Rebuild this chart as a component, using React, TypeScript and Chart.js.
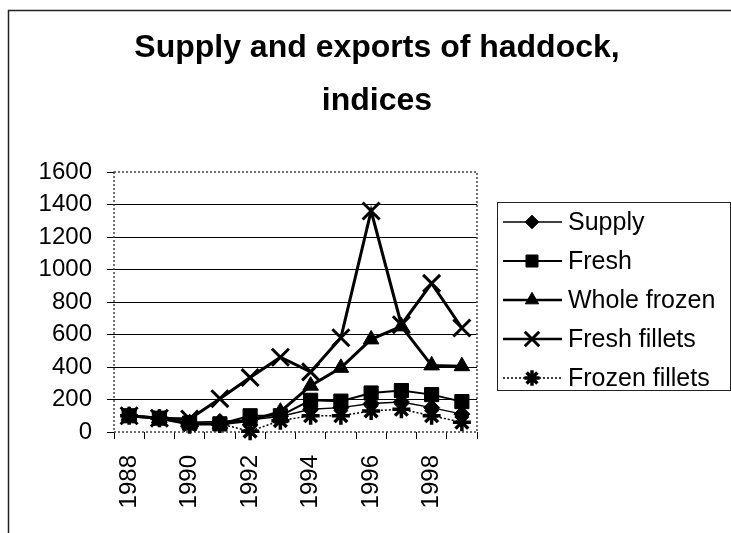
import React, { useEffect, useRef } from 'react';
import { Chart, registerables } from 'chart.js';

Chart.register(...registerables);

const years = ['1988', '1989', '1990', '1991', '1992', '1993', '1994', '1995', '1996', '1997', '1998', '1999'];
const supply = [100, 85, 60, 65, 75, 95, 140, 150, 175, 185, 150, 110];
const fresh = [100, 85, 55, 50, 100, 100, 195, 190, 240, 255, 230, 187];
const wholeFrozen = [100, 85, 50, 50, 70, 125, 285, 395, 570, 650, 410, 405];
const freshFillets = [100, 85, 80, 205, 335, 460, 370, 580, 1360, 660, 915, 640];
const frozenFillets = [100, 85, 45, 50, 5, 70, 100, 100, 130, 140, 100, 60];
const seriesNames = ['Supply', 'Fresh', 'Whole frozen', 'Fresh fillets', 'Frozen fillets'];
const titleLines = ['Supply and exports of haddock,', 'indices'];
const yMin = 0;
const yMax = 1600;
const yStep = 200;

const FONT = '"Liberation Sans", Arial, Helvetica, sans-serif';

function drawMarker(ctx: CanvasRenderingContext2D, style: string, x: number, y: number, r: number, bw: number) {
  ctx.save();
  ctx.fillStyle = '#000';
  ctx.strokeStyle = '#000';
  ctx.lineWidth = bw;
  ctx.setLineDash([]);
  ctx.beginPath();
  const d = Math.SQRT1_2 * r;
  if (style === 'rectRot') {
    ctx.moveTo(x, y - r);
    ctx.lineTo(x + r, y);
    ctx.lineTo(x, y + r);
    ctx.lineTo(x - r, y);
    ctx.closePath();
    ctx.fill();
    ctx.stroke();
  } else if (style === 'rect') {
    ctx.rect(x - d, y - d, 2 * d, 2 * d);
    ctx.fill();
    ctx.stroke();
  } else if (style === 'triangle') {
    for (let i = 0; i < 3; i++) {
      const a = (i * 2 * Math.PI) / 3;
      const px = x + Math.sin(a) * r;
      const py = y - Math.cos(a) * r;
      if (i === 0) ctx.moveTo(px, py);
      else ctx.lineTo(px, py);
    }
    ctx.closePath();
    ctx.fill();
    ctx.stroke();
  } else if (style === 'crossRot') {
    ctx.moveTo(x - d, y - d);
    ctx.lineTo(x + d, y + d);
    ctx.moveTo(x - d, y + d);
    ctx.lineTo(x + d, y - d);
    ctx.stroke();
  } else if (style === 'star') {
    ctx.moveTo(x - r, y);
    ctx.lineTo(x + r, y);
    ctx.moveTo(x, y - r);
    ctx.lineTo(x, y + r);
    ctx.moveTo(x - d, y - d);
    ctx.lineTo(x + d, y + d);
    ctx.moveTo(x - d, y + d);
    ctx.lineTo(x + d, y - d);
    ctx.stroke();
  }
  ctx.restore();
}

const decorPlugin = {
  id: 'decor',
  beforeDraw(chart: any) {
    const ctx = chart.ctx as CanvasRenderingContext2D;
    ctx.save();
    ctx.fillStyle = '#fff';
    ctx.fillRect(0, 0, chart.width, chart.height);
    ctx.strokeStyle = '#222';
    ctx.lineWidth = 1.5;
    ctx.beginPath();
    ctx.moveTo(8.5, chart.height);
    ctx.lineTo(8.5, 10.5);
    ctx.lineTo(chart.width, 10.5);
    ctx.stroke();
    ctx.fillStyle = '#000';
    ctx.font = 'bold 32px ' + FONT;
    ctx.textAlign = 'center';
    ctx.textBaseline = 'alphabetic';
    titleLines.forEach((t, i) => ctx.fillText(t, 377, 57 + i * 53));
    ctx.restore();
  },
  beforeDatasetsDraw(chart: any) {
    const ctx = chart.ctx as CanvasRenderingContext2D;
    const { left, right, top, bottom } = chart.chartArea;
    ctx.save();
    ctx.strokeStyle = '#444';
    ctx.lineWidth = 1.5;
    ctx.setLineDash([2, 2]);
    ctx.strokeRect(left, top, right - left, bottom - top);
    ctx.restore();
  },
  afterDraw(chart: any) {
    const ctx = chart.ctx as CanvasRenderingContext2D;
    ctx.save();
    ctx.strokeStyle = '#222';
    ctx.lineWidth = 1;
    ctx.strokeRect(497.5, 202.5, 233, 188);
    chart.data.datasets.forEach((ds: any, i: number) => {
      const cy = 222 + i * 39;
      ctx.save();
      ctx.strokeStyle = '#000';
      ctx.lineWidth = Math.min(ds.borderWidth, 2.5);
      ctx.setLineDash(ds.borderDash || []);
      ctx.beginPath();
      ctx.moveTo(503, cy);
      ctx.lineTo(562, cy);
      ctx.stroke();
      ctx.restore();
      drawMarker(ctx, ds.pointStyle, 532, cy, ds.pointRadius * 0.85, ds.pointBorderWidth);
      ctx.fillStyle = '#000';
      ctx.font = '25px ' + FONT;
      ctx.textAlign = 'left';
      ctx.textBaseline = 'middle';
      ctx.fillText(ds.label, 568, cy + 1);
    });
    ctx.restore();
  },
};

export default function App() {
  const ref = useRef<HTMLCanvasElement | null>(null);
  useEffect(() => {
    if (!ref.current) return;
    const common = {
      borderColor: '#000',
      pointBackgroundColor: '#000',
      pointBorderColor: '#000',
      fill: false,
      tension: 0,
      clip: false as const,
    };
    const chart = new Chart(ref.current, {
      type: 'line',
      data: {
        labels: years,
        datasets: [
          { ...common, label: seriesNames[0], data: supply, borderWidth: 1.5, pointStyle: 'rectRot', pointRadius: 8, pointBorderWidth: 1 },
          { ...common, label: seriesNames[1], data: fresh, borderWidth: 2, pointStyle: 'rect', pointRadius: 10, pointBorderWidth: 1 },
          { ...common, label: seriesNames[2], data: wholeFrozen, borderWidth: 3, pointStyle: 'triangle', pointRadius: 9, pointBorderWidth: 1 },
          { ...common, label: seriesNames[3], data: freshFillets, borderWidth: 3, pointStyle: 'crossRot', pointRadius: 12, pointBorderWidth: 3 },
          { ...common, label: seriesNames[4], data: frozenFillets, borderWidth: 1.5, borderDash: [2, 2], pointStyle: 'star', pointRadius: 9, pointBorderWidth: 3.5 },
        ],
      },
      options: {
        animation: false,
        responsive: false,
        devicePixelRatio: 1,
        layout: { padding: { left: 0, right: 254, top: 172, bottom: 0 } },
        plugins: {
          legend: { display: false },
          title: { display: false },
          tooltip: { enabled: false },
        },
        scales: {
          x: {
            type: 'category',
            offset: true,
            grid: { display: true, offset: true, drawOnChartArea: false, drawTicks: true, tickLength: 7, tickColor: '#000', tickWidth: 1 },
            border: { display: false },
            ticks: {
              autoSkip: false,
              minRotation: 90,
              maxRotation: 90,
              padding: 16,
              color: '#000',
              font: { family: FONT, size: 24 },
              callback: function (this: any, value: any, index: number) {
                return index % 2 === 0 ? this.getLabelForValue(value) : '';
              },
            },
            afterFit: (scale: any) => {
              scale.height = 101;
            },
          },
          y: {
            min: yMin,
            max: yMax,
            ticks: {
              stepSize: yStep,
              padding: 15,
              color: '#000',
              font: { family: FONT, size: 24 },
              callback: (v: any) => String(v),
            },
            grid: {
              color: (c: any) => (c.tick && (c.tick.value === yMin || c.tick.value === yMax) ? 'rgba(0,0,0,0)' : '#000'),
              lineWidth: 1,
              tickLength: 7,
              tickColor: '#000',
            },
            border: { display: false },
            afterFit: (scale: any) => {
              scale.width = 114;
            },
          },
        },
      },
      plugins: [decorPlugin],
    } as any);
    return () => chart.destroy();
  }, []);
  return (
    <div style={{ position: 'absolute', left: 0, top: 0, width: 731, height: 533, background: '#fff' }}>
      <canvas ref={ref} width={731} height={533} style={{ display: 'block', width: 731, height: 533 }} />
    </div>
  );
}
